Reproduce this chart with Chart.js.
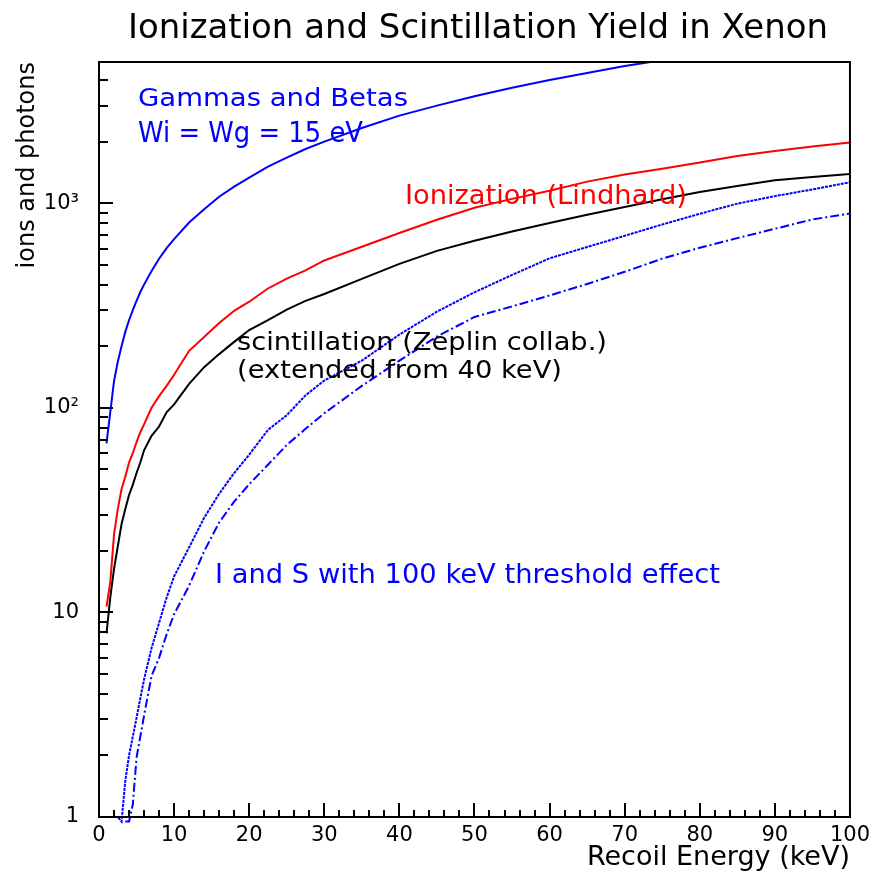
<!DOCTYPE html>
<html lang="en">
<head>
<meta charset="UTF-8">
<title>Ionization and Scintillation Yield in Xenon</title>
<script src="https://cdn.jsdelivr.net/npm/chart.js"></script>
<style>
    html, body { margin: 0; padding: 0; background: #fff; }
    canvas { display: block; }
</style>
</head>
<body>
<canvas id="yieldChart" width="876" height="876"></canvas>
<script>
    // recoil energy grid (keV)
    const energies = [1, 1.5, 2, 2.5, 3, 3.5, 4, 4.5, 5, 5.5, 6, 7, 8, 9, 10,
        12, 14, 16, 18, 20, 22.5, 25, 27.5, 30, 35, 40, 45, 50, 55, 60, 65, 70, 75,
        80, 85, 90, 95, 100];

    // gammas and betas, W = 15 eV
    const gammaYield = [67, 95, 135, 168, 200, 235, 268, 300, 333, 368, 400, 466, 535, 603, 668,
        805, 935, 1075, 1205, 1335, 1510, 1670, 1840, 2000, 2330, 2680, 3000, 3330, 3670, 4000, 4330, 4680, 5000,
        null, null, null, null, null];

    // ionization (Lindhard)
    const ionYield = [10.7, 14, 24, 32, 40, 46, 54, 60, 68, 76, 83, 100, 114, 128, 145,
        190, 222, 260, 298, 330, 383, 428, 470, 525, 613, 715, 830, 950, 1050, 1150, 1275, 1380, 1475,
        1580, 1700, 1800, 1895, 1983];

    // scintillation (Zeplin), extended above 40 keV
    const scintYield = [7.9, 11.8, 16.3, 21, 27, 32, 37.5, 42, 48, 54, 62, 73, 81, 95, 104,
        131, 158, 183, 210, 240, 268, 302, 333, 360, 427, 505, 585, 655, 727, 800, 878, 958, 1045,
        1135, 1215, 1295, 1342, 1389];

    // ionization with 100 keV threshold effect
    const ionThreshold = [1, 1, 1, 1, 0.95, 1.5, 2.0, 2.47, 3.05, 3.8, 4.7, 6.7, 8.9, 11.8, 15,
        20.8, 29, 38, 48, 59, 78, 92, 115, 136, 170, 228, 295, 367, 446, 538, 611, 693, 787,
        888, 995, 1083, 1168, 1265];

    // scintillation with 100 keV threshold effect
    const scintThreshold = [null, null, null, null, null, 0.95, 0.95, 1.15, 1.95, 2.47, 3.13, 4.9, 6.0, 7.8, 9.8,
        13.5, 19.9, 27.5, 34.8, 42.3, 52.7, 65.8, 78.9, 94, 128, 170, 223, 278, 313, 354, 403, 462, 536,
        606, 675, 750, 833, 891];

    // y tick labels for the decades
    const decadeLabels = { 1: '1', 10: '10', 100: '10²', 1000: '10³' };

    const FONT = '"DejaVu Sans ExtraLight", "DejaVu Sans", sans-serif';
    Chart.defaults.font.family = FONT;
    Chart.defaults.color = '#000';

    function points(values) {
        return energies.map((e, i) => ({ x: e, y: values[i] }));
    }

    // free text placed on the canvas (left edge, baseline, width to fill)
    const notes = [
        { text: 'Ionization and Scintillation Yield in Xenon', x: 128, y: 38, w: 700, size: 34, color: '#000' },
        { text: 'Gammas and Betas', x: 138, y: 106, w: 270, size: 25, color: '#0000ff' },
        { text: 'Wi = Wg = 15 eV', x: 138, y: 142, w: 225, size: 29, color: '#0000ff' },
        { text: 'Ionization (Lindhard)', x: 405, y: 204, w: 282, size: 27, color: '#ff0000' },
        { text: 'scintillation (Zeplin collab.)', x: 237, y: 350, w: 370, size: 25, color: '#000' },
        { text: '(extended from 40 keV)', x: 237, y: 378, w: 325, size: 25, color: '#000' },
        { text: 'I and S with 100 keV threshold effect', x: 215, y: 583, w: 505, size: 26, color: '#0000ff' }
    ];

    function drawNote(ctx, n) {
        ctx.save();
        ctx.font = n.size + 'px ' + FONT;
        ctx.fillStyle = n.color;
        ctx.textBaseline = 'alphabetic';
        ctx.textAlign = 'left';
        const w = ctx.measureText(n.text).width;
        ctx.translate(n.x, n.y);
        ctx.scale(n.w / w, 1);
        ctx.fillText(n.text, 0, 0);
        ctx.restore();
    }

    // frame around the plot with tick marks pointing inwards
    const frameTicks = {
        id: 'frameTicks',
        afterDatasetsDraw(chart) {
            const { ctx, chartArea: a, scales: { x, y } } = chart;
            ctx.save();
            ctx.strokeStyle = '#000';
            ctx.lineWidth = 2;
            ctx.beginPath();
            x.ticks.forEach(t => {
                const px = Math.round(x.getPixelForValue(t.value));
                const len = t.value % 10 === 0 ? 14 : 7;
                ctx.moveTo(px, a.bottom);
                ctx.lineTo(px, a.bottom - len);
            });
            y.ticks.forEach(t => {
                const exp = Math.floor(Math.log10(t.value) + 1e-9);
                const m = t.value / Math.pow(10, exp);
                if (Math.abs(m - Math.round(m)) > 1e-6) return;
                const py = Math.round(y.getPixelForValue(t.value));
                const len = Math.round(m) === 1 ? 14 : 9;
                ctx.moveTo(a.left, py);
                ctx.lineTo(a.left + len, py);
            });
            ctx.stroke();
            ctx.strokeRect(a.left, a.top, a.right - a.left, a.bottom - a.top);
            ctx.restore();
        },
        afterDraw(chart) {
            notes.forEach(n => drawNote(chart.ctx, n));
        }
    };

    const line = { pointRadius: 0, borderWidth: 2, tension: 0, fill: false, spanGaps: false };

    new Chart(document.getElementById('yieldChart'), {
        type: 'line',
        data: {
            datasets: [
                { ...line, label: 'Gammas and Betas', data: points(gammaYield), borderColor: '#0000ff' },
                { ...line, label: 'Ionization (Lindhard)', data: points(ionYield), borderColor: '#ff0000' },
                { ...line, label: 'scintillation', data: points(scintYield), borderColor: '#000000' },
                { ...line, label: 'I, threshold', data: points(ionThreshold), borderColor: '#0000ff',
                  borderDash: [3, 1], clip: { left: 1, right: 1, top: 1, bottom: 7 } },
                { ...line, label: 'S, threshold', data: points(scintThreshold), borderColor: '#0000ff',
                  borderDash: [9, 3, 2, 3], clip: { left: 1, right: 1, top: 1, bottom: 7 } }
            ]
        },
        options: {
            responsive: false,
            animation: false,
            layout: { padding: { top: 62, right: 22, left: 0, bottom: 0 } },
            plugins: {
                legend: { display: false },
                tooltip: { enabled: false },
                title: { display: false }
            },
            scales: {
                x: {
                    type: 'linear',
                    min: 0,
                    max: 100,
                    afterFit(scale) { scale.height = 59; },
                    grid: { display: false, drawTicks: false },
                    border: { display: false },
                    ticks: {
                        stepSize: 2,
                        autoSkip: false,
                        maxRotation: 0,
                        minRotation: 0,
                        padding: 6,
                        font: { size: 21 },
                        callback: v => (v % 10 === 0 ? String(v) : '')
                    },
                    title: {
                        display: true,
                        text: 'Recoil Energy (keV)',
                        align: 'end',
                        font: { size: 27 },
                        padding: { top: 0, bottom: 2 }
                    }
                },
                y: {
                    type: 'logarithmic',
                    min: 1,
                    max: 4900,
                    afterFit(scale) { scale.width = 99; },
                    grid: { display: false, drawTicks: false },
                    border: { display: false },
                    ticks: {
                        autoSkip: false,
                        padding: 20,
                        font: { size: 21 },
                        callback: v => decadeLabels[v] || ''
                    },
                    title: {
                        display: true,
                        text: 'ions and photons',
                        align: 'end',
                        font: { size: 24 },
                        padding: { top: 13, bottom: 0 }
                    }
                }
            }
        },
        plugins: [frameTicks]
    });
</script>
</body>
</html>
